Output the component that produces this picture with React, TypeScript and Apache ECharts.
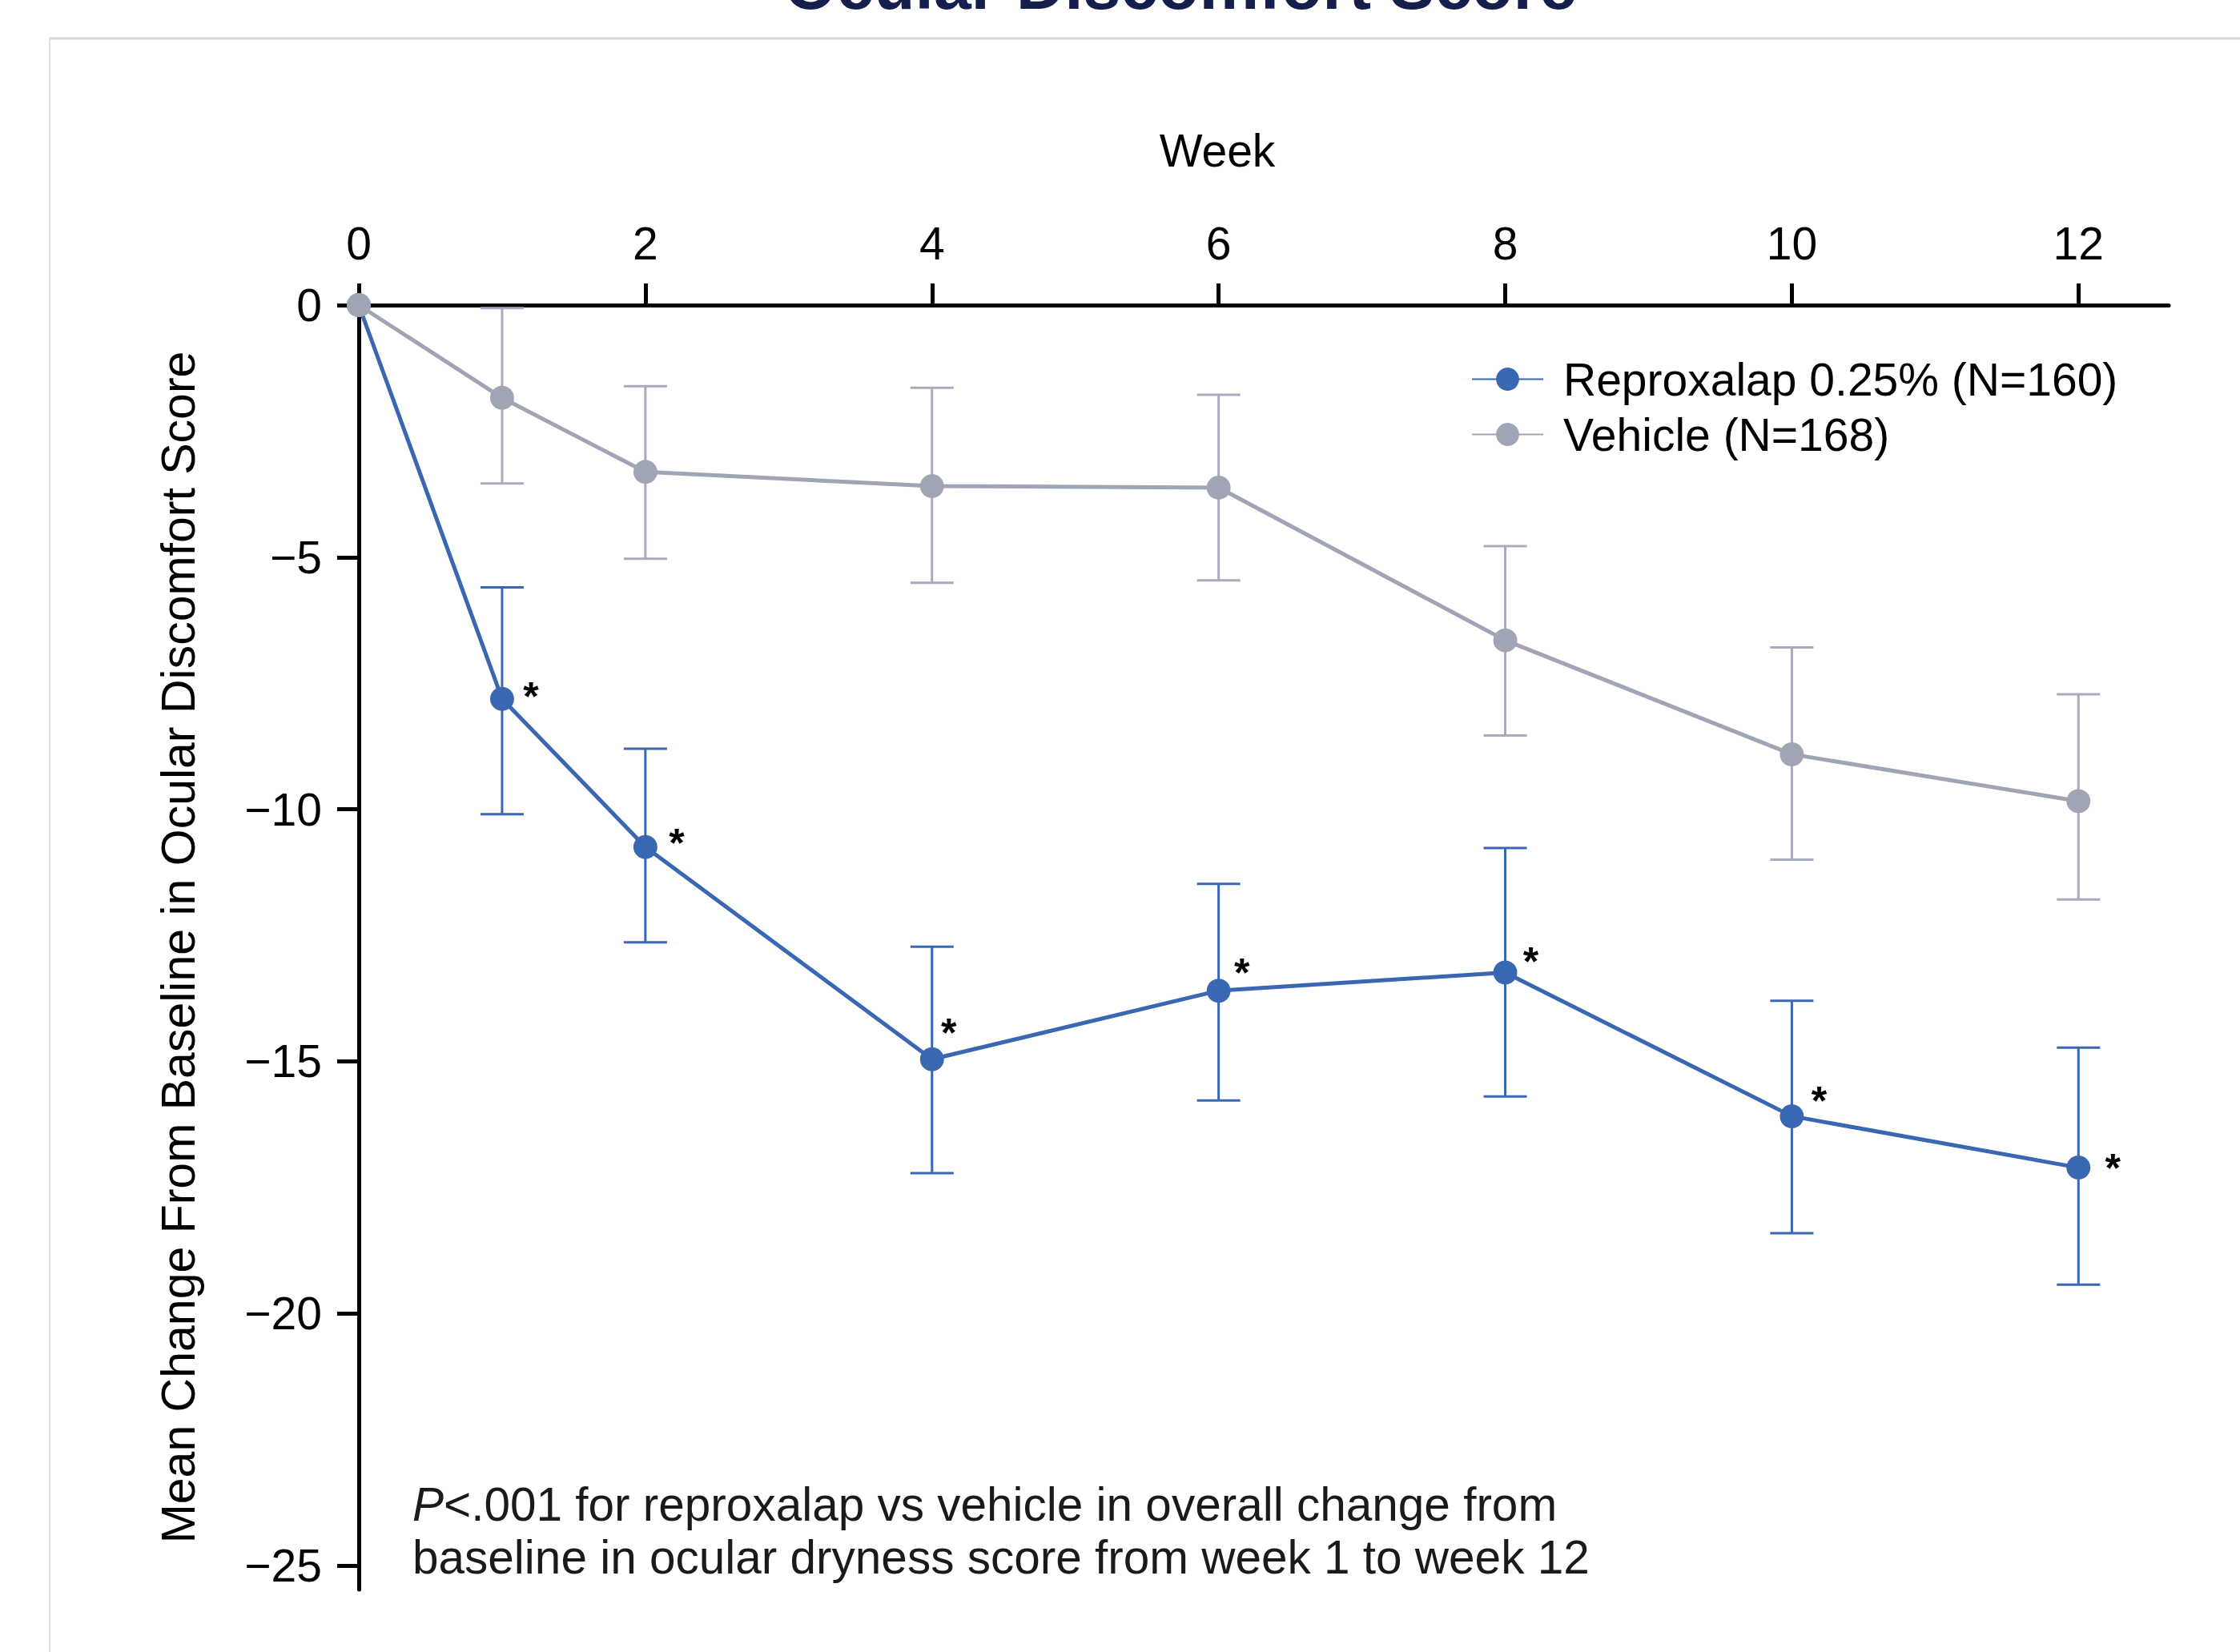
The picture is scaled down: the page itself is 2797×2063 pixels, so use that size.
import React, { useEffect, useRef } from "react";
import * as echarts from "echarts";

// ---- data ----
const weeks = [0, 1, 2, 4, 6, 8, 10, 12];
const reproMean = [0, -7.81, -10.75, -14.96, -13.6, -13.24, -16.09, -17.11];
const reproUpper = [0, -5.6, -8.8, -12.73, -11.48, -10.77, -13.8, -14.73];
const reproLower = [0, -10.1, -12.64, -17.22, -15.78, -15.7, -18.41, -19.43];
const vehMean = [0, -1.84, -3.31, -3.59, -3.62, -6.65, -8.91, -9.84];
const vehUpper = [0, -0.06, -1.61, -1.64, -1.78, -4.78, -6.79, -7.72];
const vehLower = [0, -3.54, -5.03, -5.51, -5.46, -8.54, -11.0, -11.79];
const significant = [false, true, true, true, true, true, true, true];
const xTicks = [0, 2, 4, 6, 8, 10, 12];
const yTicks = [0, -5, -10, -15, -20, -25];

const reproName = "Reproxalap 0.25% (N=160)";
const vehName = "Vehicle (N=168)";

// label offsets for the asterisks (layout, px)
const starOffsets = [
  [0, 0], [36, -3], [39, -5], [21, -33], [29, -22], [32, -13], [34, -19], [43, 1],
];

const FONT = "'Liberation Sans', Arial, Helvetica, sans-serif";
const BLUE = "#3A67B1";
const GREY = "#A0A5B5";
const GREY_ERR = "#A7ABBB";

function errorSeries(name: string, lower: number[], upper: number[], color: string) {
  return {
    type: "custom",
    name: name + " err",
    z: 2,
    silent: true,
    data: weeks.map((w, i) => [w, lower[i], upper[i]]),
    renderItem: (params: any, api: any) => {
      const x = api.value(0);
      const lo = api.coord([x, api.value(1)]);
      const hi = api.coord([x, api.value(2)]);
      if (Math.abs(lo[1] - hi[1]) < 1) return { type: "group", children: [] };
      const hw = 27;
      const st = { stroke: color, lineWidth: 3 };
      return {
        type: "group",
        children: [
          { type: "line", shape: { x1: lo[0], y1: lo[1], x2: hi[0], y2: hi[1] }, style: st },
          { type: "line", shape: { x1: lo[0] - hw, y1: lo[1], x2: lo[0] + hw, y2: lo[1] }, style: st },
          { type: "line", shape: { x1: hi[0] - hw, y1: hi[1], x2: hi[0] + hw, y2: hi[1] }, style: st },
        ],
      };
    },
  };
}

export default function App() {
  const ref = useRef<HTMLDivElement>(null);
  useEffect(() => {
    const chart = echarts.init(ref.current!, null, { renderer: "svg" });
    const reproData = weeks.map((w, i) => ({
      value: [w, reproMean[i]],
      label: significant[i]
        ? {
            show: true,
            formatter: "*",
            position: "inside",
            offset: starOffsets[i],
            color: "#000",
            fontSize: 50,
            fontWeight: "bold",
            fontFamily: FONT,
            align: "center",
            verticalAlign: "middle",
          }
        : { show: false },
    }));
    const option: any = {
      animation: false,
      backgroundColor: "#fff",
      textStyle: { fontFamily: FONT },
      grid: { left: 448, right: 89, top: 381, bottom: 78, containLabel: false },
      legend: {
        orient: "vertical",
        left: 1832,
        top: 440,
        itemWidth: 89,
        itemHeight: 36,
        itemGap: 12,
        data: [reproName, vehName],
        textStyle: { fontSize: 57, color: "#000", fontFamily: FONT, padding: [0, 0, 0, 20] },
      },
      xAxis: {
        type: "value",
        position: "top",
        min: 0,
        max: 12.63,
        interval: 2,
        axisLine: { onZero: false, lineStyle: { color: "#000", width: 5 } },
        axisTick: { show: true, length: 27, lineStyle: { color: "#000", width: 5 }, customValues: xTicks },
        axisLabel: { fontSize: 57, color: "#000", margin: 49, fontFamily: FONT, customValues: xTicks },
        splitLine: { show: false },
      },
      yAxis: {
        type: "value",
        min: -25.48,
        max: 0,
        name: "Mean Change From Baseline in Ocular Discomfort Score",
        nameLocation: "middle",
        nameRotate: 90,
        nameGap: 196,
        nameTextStyle: { fontSize: 59, color: "#000", fontFamily: FONT },
        axisLine: { onZero: false, lineStyle: { color: "#000", width: 5 } },
        axisTick: { show: true, length: 27, lineStyle: { color: "#000", width: 5 }, customValues: yTicks },
        axisLabel: {
          fontSize: 57,
          color: "#000",
          margin: 46,
          fontFamily: FONT,
          customValues: yTicks,
          padding: [10, 0, 0, 0],
          formatter: (v: number) => (v === 0 ? "0" : "\u2212" + Math.abs(v)),
        },
        splitLine: { show: false },
      },
      graphic: [
        { type: "line", silent: true, shape: { x1: 62, y1: 48, x2: 2797, y2: 48 }, style: { stroke: "#d9d9d9", lineWidth: 3 } },
        { type: "line", silent: true, shape: { x1: 62, y1: 47, x2: 62, y2: 2063 }, style: { stroke: "#e0e0e0", lineWidth: 2 } },
        {
          type: "text",
          x: 1474,
          y: -18,
          style: { text: "Ocular Discomfort Score", fill: "#14204B", fontSize: 84, fontWeight: "bold", fontFamily: FONT, align: "center", verticalAlign: "middle" },
        },
        {
          type: "text",
          x: 1520,
          y: 188,
          style: { text: "Week", fill: "#000", fontSize: 57, fontFamily: FONT, align: "center", verticalAlign: "middle" },
        },
        {
          type: "text",
          x: 515,
          y: 1845,
          style: {
            text: "{i|P}<.001 for reproxalap vs vehicle in overall change from\nbaseline in ocular dryness score from week 1 to week 12",
            fill: "#1a1a1a",
            fontSize: 58.5,
            fontFamily: FONT,
            lineHeight: 66,
            align: "left",
            verticalAlign: "top",
            rich: { i: { fontStyle: "italic", fontSize: 58.5, fontFamily: FONT, fill: "#1a1a1a", lineHeight: 66 } },
          },
        },
      ],
      series: [
        errorSeries(reproName, reproLower, reproUpper, BLUE),
        errorSeries(vehName, vehLower, vehUpper, GREY_ERR),
        {
          type: "line",
          name: reproName,
          z: 3,
          data: reproData,
          symbol: "circle",
          symbolSize: 30,
          color: BLUE,
          lineStyle: { color: BLUE, width: 5 },
          itemStyle: { color: BLUE },
        },
        {
          type: "line",
          name: vehName,
          z: 4,
          data: weeks.map((w, i) => [w, vehMean[i]]),
          symbol: "circle",
          symbolSize: 30,
          color: GREY,
          lineStyle: { color: GREY, width: 5 },
          itemStyle: { color: GREY },
        },
      ],
    };
    chart.setOption(option);
    return () => chart.dispose();
  }, []);
  return <div ref={ref} style={{ position: "fixed", left: 0, top: 0, width: 2797, height: 2063 }} />;
}
